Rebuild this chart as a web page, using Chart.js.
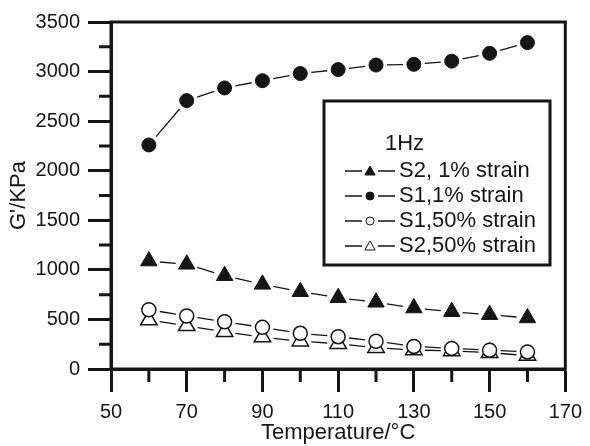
<!DOCTYPE html>
<html>
<head>
<meta charset="utf-8">
<script src="https://cdn.jsdelivr.net/npm/chart.js@4/dist/chart.umd.min.js"></script>
<style>
  html, body { margin: 0; padding: 0; background: #fff; }
  #wrap { width: 590px; height: 446px; }
</style>
</head>
<body>
<div id="wrap"><canvas id="c" width="590" height="446"></canvas></div>
<script>
// Storage modulus G' (kPa) against temperature, measured at 1 Hz
const temperatures = [60, 70, 80, 90, 100, 110, 120, 130, 140, 150, 160];
const s2Strain1  = [1089, 1056, 941, 854, 780, 719, 673, 615, 578, 548, 515];
const s1Strain1  = [2260, 2707, 2835, 2908, 2980, 3020, 3066, 3073, 3105, 3184, 3292];
const s1Strain50 = [598, 535, 477, 420, 360, 326, 280, 228, 208, 190, 172];
const s2Strain50 = [494, 435, 375, 322, 280, 255, 215, 192, 182, 165, 135];

const seriesLabels = ['S2, 1% strain', 'S1,1% strain', 'S1,50% strain', 'S2,50% strain'];
const legendTitle = '1Hz';

const xTickValues = [50, 70, 90, 110, 130, 150, 170];
const xMinorTicks = [60, 80, 100, 120, 140, 160];
const yTickValues = [0, 500, 1000, 1500, 2000, 2500, 3000, 3500];
const yMinorTicks = [250, 750, 1250, 1750, 2250, 2750, 3250];

const INK = '#151515';
const FONT = '"Liberation Sans", Arial, Helvetica, sans-serif';

function pts(ys) { return temperatures.map((t, i) => ({ x: t, y: ys[i] })); }

const markerStyles = [
  { pointStyle: 'triangle', pointRadius: 9.5, pointBackgroundColor: INK, pointBorderColor: INK, pointBorderWidth: 1 },
  { pointStyle: 'circle', pointRadius: 7, pointBackgroundColor: INK, pointBorderColor: INK, pointBorderWidth: 1 },
  { pointStyle: 'circle', pointRadius: 7, pointBackgroundColor: '#fff', pointBorderColor: INK, pointBorderWidth: 1.5 },
  { pointStyle: 'triangle', pointRadius: 9.5, pointBackgroundColor: '#fff', pointBorderColor: INK, pointBorderWidth: 1.5 }
];
const seriesValues = [s2Strain1, s1Strain1, s1Strain50, s2Strain50];

const datasets = seriesValues.map((vals, i) => Object.assign({
  label: seriesLabels[i],
  data: pts(vals),
  showLine: false
}, markerStyles[i]));

// Connecting lines drawn between consecutive markers, leaving a small gap at each symbol
const gapLines = {
  id: 'gapLines',
  beforeDatasetsDraw(chart) {
    const ctx = chart.ctx;
    ctx.save();
    ctx.strokeStyle = INK;
    ctx.lineWidth = 1.3;
    chart.data.datasets.forEach((ds, di) => {
      const els = chart.getDatasetMeta(di).data;
      for (let i = 0; i < els.length - 1; i++) {
        const a = els[i], b = els[i + 1];
        const dx = b.x - a.x, dy = b.y - a.y;
        const len = Math.hypot(dx, dy);
        const gap = 11;
        if (len <= 2 * gap) continue;
        const ux = dx / len, uy = dy / len;
        ctx.beginPath();
        ctx.moveTo(a.x + ux * gap, a.y + uy * gap);
        ctx.lineTo(b.x - ux * gap, b.y - uy * gap);
        ctx.stroke();
      }
    });
    ctx.restore();
  }
};

// Box round the plot area plus the short minor ticks
const frameAndMinor = {
  id: 'frameAndMinor',
  afterDraw(chart) {
    const { ctx, chartArea: ca } = chart;
    const xs = chart.scales.x, ys = chart.scales.y;
    ctx.save();
    ctx.strokeStyle = INK;
    ctx.lineWidth = 3;
    ctx.strokeRect(ca.left, ca.top, ca.right - ca.left, ca.bottom - ca.top);
    ctx.beginPath();
    xMinorTicks.forEach(v => {
      const px = xs.getPixelForValue(v);
      ctx.moveTo(px, ca.bottom);
      ctx.lineTo(px, ca.bottom + 13);
    });
    yMinorTicks.forEach(v => {
      const py = ys.getPixelForValue(v);
      ctx.moveTo(ca.left - 12, py);
      ctx.lineTo(ca.left, py);
    });
    ctx.stroke();
    ctx.restore();
  }
};

function drawMarker(ctx, style, r, x, y, fill) {
  ctx.beginPath();
  if (style === 'circle') {
    ctx.arc(x, y, r, 0, Math.PI * 2);
  } else {
    for (let k = 0; k < 3; k++) {
      const ang = -Math.PI / 2 + k * 2 * Math.PI / 3;
      const px = x + Math.cos(ang) * r, py = y + Math.sin(ang) * r;
      if (k === 0) ctx.moveTo(px, py); else ctx.lineTo(px, py);
    }
    ctx.closePath();
  }
  ctx.fillStyle = fill;
  ctx.fill();
  ctx.stroke();
}

// Boxed legend inside the plot
const boxLegend = {
  id: 'boxLegend',
  afterDraw(chart) {
    const ctx = chart.ctx;
    const bx = 324, by = 101, bw = 226, bh = 164;
    ctx.save();
    ctx.fillStyle = '#fff';
    ctx.fillRect(bx, by, bw, bh);
    ctx.strokeStyle = INK;
    ctx.lineWidth = 3;
    ctx.strokeRect(bx, by, bw, bh);
    ctx.fillStyle = INK;
    ctx.font = '22px ' + FONT;
    ctx.textBaseline = 'middle';
    ctx.textAlign = 'left';
    ctx.fillText(legendTitle, 385, 144);
    const rowY = [171, 196, 221, 246];
    const sizes = [6, 4, 4, 6];
    chart.data.datasets.forEach((ds, i) => {
      const y = rowY[i];
      ctx.lineWidth = 1.3;
      ctx.strokeStyle = INK;
      ctx.beginPath();
      ctx.moveTo(345, y); ctx.lineTo(362, y);
      ctx.moveTo(378, y); ctx.lineTo(395, y);
      ctx.stroke();
      ctx.lineWidth = 1;
      drawMarker(ctx, ds.pointStyle, sizes[i], 370, y + (ds.pointStyle === 'triangle' ? 1 : 0), ds.pointBackgroundColor);
      ctx.fillStyle = INK;
      ctx.fillText(ds.label, 399, y);
    });
    ctx.restore();
  }
};

new Chart(document.getElementById('c'), {
  type: 'scatter',
  data: { datasets },
  options: {
    responsive: false,
    devicePixelRatio: 1,
    animation: false,
    events: [],
    layout: { padding: { top: 22, right: 17, left: 0, bottom: 0 } },
    plugins: { legend: { display: false }, tooltip: { enabled: false } },
    scales: {
      x: {
        type: 'linear',
        min: 50, max: 170,
        afterBuildTicks: s => { s.ticks = xTickValues.map(v => ({ value: v })); },
        afterFit: s => { s.height = 77; },
        ticks: { color: INK, font: { family: FONT, size: 20 }, padding: 8, maxRotation: 0, callback: v => String(v) },
        grid: { drawOnChartArea: false, tickLength: 23, tickWidth: 3, tickColor: INK },
        border: { display: true, width: 3, color: INK },
        title: { display: true, text: 'Temperature/°C', color: INK, font: { family: FONT, size: 22 }, padding: { top: 0, bottom: 0 } }
      },
      y: {
        type: 'linear',
        min: 0, max: 3500,
        afterBuildTicks: s => { s.ticks = yTickValues.map(v => ({ value: v })); },
        afterFit: s => { s.width = 111; },
        ticks: { color: INK, font: { family: FONT, size: 20 }, padding: 8, callback: v => String(v) },
        grid: { drawOnChartArea: false, tickLength: 23, tickWidth: 3, tickColor: INK },
        border: { display: true, width: 3, color: INK },
        title: { display: true, text: "G'/KPa", color: INK, font: { family: FONT, size: 22 }, padding: { top: 6, bottom: 0 } }
      }
    }
  },
  plugins: [gapLines, frameAndMinor, boxLegend]
});
</script>
</body>
</html>
